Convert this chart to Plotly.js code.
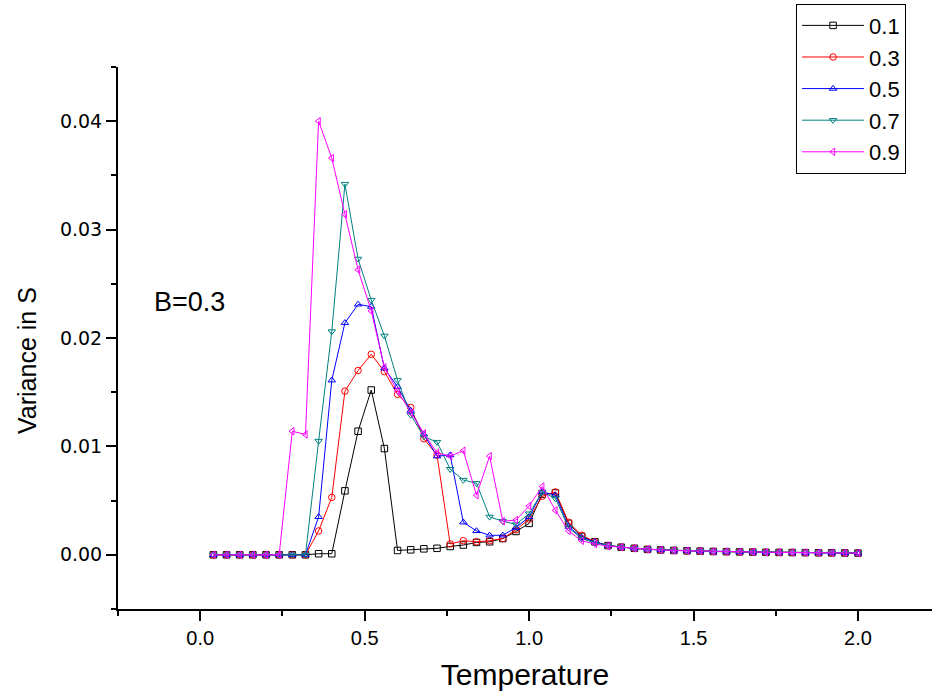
<!DOCTYPE html>
<html>
<head>
<meta charset="utf-8">
<script src="https://cdn.plot.ly/plotly-3.0.1.min.js"></script>
<style>html,body{margin:0;padding:0;background:#fff;}#chart{width:932px;height:692px;}</style>
</head>
<body>
<div id="chart"></div>
<script>
// Temperature values (x)
const temperature = [0.04,0.08,0.12,0.16,0.20,0.24,0.28,0.32,0.36,0.40,0.44,0.48,0.52,0.56,0.60,0.64,0.68,0.72,0.76,0.80,0.84,0.88,0.92,0.96,1.00,1.04,1.08,1.12,1.16,1.20,1.24,1.28,1.32,1.36,1.40,1.44,1.48,1.52,1.56,1.60,1.64,1.68,1.72,1.76,1.80,1.84,1.88,1.92,1.96,2.00];

const seriesNames = ["0.1","0.3","0.5","0.7","0.9"];

const var01 = [0,0,0,0,0,0,0,0,0.0001,0.0001,0.0059,0.0114,0.0152,0.0098,0.0004,0.00046,0.00055,0.0006,0.00077,0.0009,0.00114,0.0012,0.0015,0.00215,0.0029,0.0056,0.0057,0.0029,0.0017,0.0012,0.00085,0.0007,0.0006,0.0005,0.00045,0.0004,0.00037,0.00034,0.00031,0.00029,0.00027,0.00025,0.00023,0.00022,0.00021,0.0002,0.00019,0.00018,0.00017,0.00016];
const var03 = [0,0,0,0,0,0,0,0,0.0022,0.0053,0.0151,0.0170,0.0185,0.0169,0.0148,0.0136,0.0107,0.0092,0.0010,0.0013,0.0012,0.0013,0.0015,0.0023,0.0033,0.0054,0.0058,0.0030,0.0018,0.0012,0.00085,0.0007,0.0006,0.0005,0.00045,0.0004,0.00037,0.00034,0.00031,0.00029,0.00027,0.00025,0.00023,0.00022,0.00021,0.0002,0.00019,0.00018,0.00017,0.00016];
const var05 = [0,0,0,0,0,0,0,0,0.0035,0.0161,0.0214,0.0231,0.0229,0.0172,0.0155,0.0133,0.0111,0.0091,0.0092,0.0030,0.0022,0.0018,0.0018,0.0025,0.0035,0.0058,0.0055,0.0026,0.0016,0.0012,0.00085,0.0007,0.0006,0.0005,0.00045,0.0004,0.00037,0.00034,0.00031,0.00029,0.00027,0.00025,0.00023,0.00022,0.00021,0.0002,0.00019,0.00018,0.00017,0.00016];
const var07 = [0,0,0,0,0,0,0,0,0.0105,0.0206,0.0342,0.0273,0.0235,0.0202,0.0161,0.0129,0.0109,0.0104,0.0079,0.0069,0.0066,0.0035,0.0031,0.0028,0.0038,0.0058,0.0052,0.0025,0.0015,0.0011,0.00085,0.0007,0.0006,0.0005,0.00045,0.0004,0.00037,0.00034,0.00031,0.00029,0.00027,0.00025,0.00023,0.00022,0.00021,0.0002,0.00019,0.00018,0.00017,0.00016];
const var09 = [0,0,0,0,0,0,0.0114,0.0111,0.0400,0.0366,0.0314,0.0263,0.0225,0.0173,0.0151,0.0131,0.0112,0.0094,0.0091,0.0096,0.0055,0.0091,0.0031,0.0032,0.0045,0.0063,0.0041,0.0022,0.0013,0.0010,0.0008,0.0007,0.0006,0.0005,0.00045,0.0004,0.00037,0.00034,0.00031,0.00029,0.00027,0.00025,0.00023,0.00022,0.00021,0.0002,0.00019,0.00018,0.00017,0.00016];

const seriesValues = [var01, var03, var05, var07, var09];
const colors = ["#000000","#ff0000","#0000ff","#008080","#ff00ff"];
const symbols = ["square-open","circle-open","triangle-up-open","triangle-down-open","triangle-left-open"];

const traces = seriesNames.map((name, i) => ({
  x: temperature,
  y: seriesValues[i],
  name: name,
  type: "scatter",
  mode: "lines+markers",
  line: {color: colors[i], width: 1},
  marker: {symbol: symbols[i], size: 6.5, color: colors[i], line: {width: 1, color: colors[i]}},
  cliponaxis: false
}));

const layout = {
  width: 932, height: 692,
  margin: {l: 118, r: 0, t: 67, b: 83},
  paper_bgcolor: "#ffffff", plot_bgcolor: "#ffffff",
  font: {family: "Liberation Sans, Arial, sans-serif", color: "#000"},
  showlegend: true,
  legend: {
    x: 0.833, y: 1.117, xanchor: "left", yanchor: "top",
    bordercolor: "#000", borderwidth: 1, bgcolor: "rgba(255,255,255,0)",
    font: {size: 22, family: "Liberation Sans, Arial, sans-serif"},
    itemwidth: 62, tracegroupgap: 0
  },
  xaxis: {
    range: [-0.25, 2.225], showgrid: false, zeroline: false,
    showline: true, linecolor: "#000", linewidth: 2, mirror: false,
    ticks: "outside", ticklen: 10, tickwidth: 2, tickcolor: "#000",
    tick0: 0, dtick: 0.5, tickformat: ".1f",
    minor: {dtick: 0.25, tick0: 0.25, ticks: "outside", ticklen: 5, tickwidth: 2, tickcolor: "#000"},
    tickfont: {size: 20, family: "Liberation Sans Narrow, Arial Narrow, sans-serif"},
    title: {text: "Temperature", font: {size: 30, family: "Liberation Sans Narrow, Arial Narrow, sans-serif"}, standoff: 16},
    automargin: false
  },
  yaxis: {
    range: [-0.005, 0.045], showgrid: false, zeroline: false,
    showline: true, linecolor: "#000", linewidth: 2, mirror: false,
    ticks: "outside", ticklen: 10, tickwidth: 2, tickcolor: "#000",
    tick0: 0, dtick: 0.01, tickformat: ".2f",
    minor: {dtick: 0.005, ticks: "outside", ticklen: 5, tickwidth: 2, tickcolor: "#000"},
    tickfont: {size: 19, family: "DejaVu Sans, sans-serif"},
    automargin: false
  },
  annotations: [{
    text: "B=0.3", xref: "paper", yref: "paper",
    x: (189 - 118) / 814, y: (609 - 302) / 542, xanchor: "center", yanchor: "middle",
    showarrow: false, font: {size: 27, color: "#000"}
  }, {
    text: "Variance in S", xref: "paper", yref: "paper",
    x: (27 - 118) / 814, y: (609 - 361) / 542, xanchor: "center", yanchor: "middle",
    textangle: -90, showarrow: false,
    font: {size: 25, color: "#000", family: "Liberation Sans Narrow, Arial Narrow, sans-serif"}
  }]
};

Plotly.newPlot("chart", traces, layout, {displayModeBar: false, staticPlot: true});
</script>
</body>
</html>
